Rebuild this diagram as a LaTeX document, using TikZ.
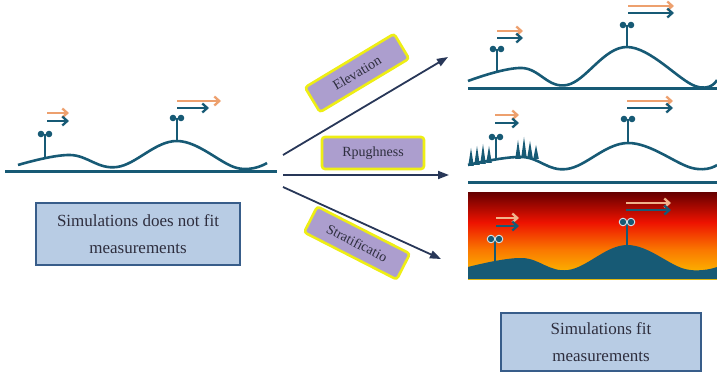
\documentclass[tikz,border=0pt]{standalone}
\usepackage{fontspec}
\setmainfont{Liberation Serif}
\usetikzlibrary{arrows.meta}

\definecolor{terrain}{RGB}{23,90,117}
\definecolor{windor}{RGB}{237,160,110}
\definecolor{flowblue}{RGB}{40,55,88}
\definecolor{tagfill}{RGB}{172,158,206}
\definecolor{tagedge}{RGB}{238,238,20}
\definecolor{noteblue}{RGB}{184,204,228}
\definecolor{noteedge}{RGB}{56,93,138}
\definecolor{inktext}{RGB}{46,46,62}
\definecolor{hotyellow}{RGB}{252,196,0}
\definecolor{hotorange}{RGB}{250,120,0}
\definecolor{hotred}{RGB}{238,18,0}
\definecolor{hotmaroon}{RGB}{105,0,0}
\definecolor{ringblue}{RGB}{200,228,240}

\pgfdeclareverticalshading{heat}{100bp}{color(0bp)=(hotyellow); color(25bp)=(hotyellow);
  color(42bp)=(hotorange); color(58bp)=(hotred); color(75bp)=(hotmaroon); color(100bp)=(hotmaroon)}

\tikzset{
  hill/.style={terrain, line width=2.6pt, line join=round},
  ground/.style={terrain, line width=3pt},
  mast/.style={terrain, line width=2.6pt},
  windarrow/.style={line width=2.3pt, -{Straight Barb[length=5pt,width=9pt]}},
  flow/.style={flowblue, line width=1.8pt, -{Triangle[length=11pt,width=8pt]}},
  factor/.style={draw=tagedge, fill=tagfill, line width=2.6pt, rounded corners=3pt,
    minimum width=104pt, minimum height=29pt, inner sep=0pt, text=inktext,
    font=\fontsize{14}{16}\selectfont},
  verdict/.style={draw=noteedge, fill=noteblue, line width=2.4pt, align=center,
    text=inktext, font=\fontsize{17}{27}\selectfont, inner sep=0pt},
  tree/.style={fill=terrain}
}

\newcommand\windmast[3]{%
  \draw[mast] (#1,#2) -- (#1,#3);
  \fill[terrain] (#1-4,#3) circle (3.3pt) (#1+4,#3) circle (3.3pt);}

\begin{document}
\begin{tikzpicture}[x=1pt,y=-1pt]
\useasboundingbox (0,0) rectangle (717,374);

\draw[ground] (5,172) -- (277,172);
\draw[hill] plot[smooth, tension=0.65] coordinates {(18,165) (70,155) (117,167) (177,141) (237,168) (267,163)};
\windmast{45}{159}{134}
\windmast{177}{141}{118}
\draw[windarrow, windor] (47,113) -- (69,113);
\draw[windarrow, terrain] (47,121) -- (69,121);
\draw[windarrow, windor] (177,101) -- (221,101);
\draw[windarrow, terrain] (177,108) -- (209,108);

\node[verdict, minimum width=204pt, minimum height=62pt] (before) at (138,234)
  {Simulations does not fit\\measurements};

\draw[ground] (468,89) -- (717,89);
\draw[hill] plot[smooth, tension=0.65] coordinates {(468,81) (522,68) (567,85) (627,47) (695,86) (717,80)};
\windmast{497}{71}{49}
\windmast{627}{47}{25}
\draw[windarrow, windor] (497,31) -- (523,31);
\draw[windarrow, terrain] (497,38) -- (523,38);
\draw[windarrow, windor] (628,6) -- (674,6);
\draw[windarrow, terrain] (628,13) -- (674,13);

\draw[ground] (468,183) -- (717,183);
\draw[hill] plot[smooth, tension=0.65] coordinates {(468,165) (522,157) (567,169) (628,143) (692,168) (717,165)};
\foreach \tx/\tb/\tt in {471/166/148, 477/165/146, 483/164/144, 489/163/146, 518/159/140, 524/158/137, 530/158/141, 536/159/145}
  \fill[tree] (\tx-2.8,\tb) -- (\tx,\tt) -- (\tx+2.8,\tb) -- cycle;
\windmast{496}{160}{137}
\windmast{628}{143}{119}
\draw[windarrow, windor] (495,115) -- (519,115);
\draw[windarrow, terrain] (495,123) -- (519,123);
\draw[windarrow, windor] (627,101) -- (673,101);
\draw[windarrow, terrain] (627,108) -- (673,108);

\shade[shading=heat] (468,193) rectangle (717,279);
\fill[terrain] plot[smooth, tension=0.65] coordinates {(468,267) (522,258) (568,270) (627,245) (685,269) (717,267)}
  -- (717,279) -- (468,279) -- cycle;
\windmast{495}{262}{239}
\windmast{627}{247}{222}
\draw[ringblue, line width=0.9pt] (491,239) circle (3.8pt) (499,239) circle (3.8pt)
  (623,222) circle (3.8pt) (631,222) circle (3.8pt);
\draw[windarrow, windor!80!white] (496,218) -- (519,218);
\draw[windarrow, terrain] (496,226) -- (519,226);
\draw[windarrow, windor!80!white] (626,203) -- (671,203);
\draw[windarrow, terrain] (626,210) -- (671,210);

\node[verdict, minimum width=200pt, minimum height=58pt] (after) at (601,342)
  {Simulations fit\\measurements};

\coordinate (src1) at (283,155);
\coordinate (src2) at (283,175);
\coordinate (src3) at (283,187);
\coordinate (dst1) at (448,57);
\coordinate (dst2) at (449,175);
\coordinate (dst3) at (441,259);
\draw[flow] (src1) -- (dst1);
\draw[flow] (src2) -- (dst2);
\draw[flow] (src3) -- (dst3);

\node[factor, rotate=31] (elev) at (357,73) {Elevation};
\node[factor, minimum width=102pt, minimum height=32pt] (rough) at (373,153) {Rpughness};
\node[factor, rotate=-27] (strat) at (357,243) {Stratificatio};
\end{tikzpicture}
\end{document}
